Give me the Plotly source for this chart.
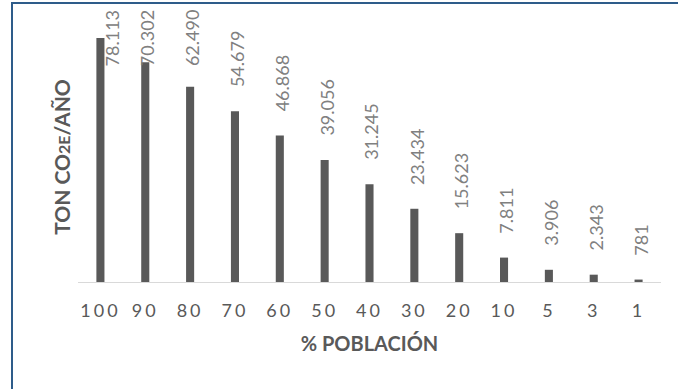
import plotly.graph_objects as go

# Emissions by share of population
categories = ["100", "90", "80", "70", "60", "50", "40", "30", "20", "10", "5", "3", "1"]
emissions = [78113, 70302, 62490, 54679, 46868, 39056, 31245, 23434, 15623, 7811, 3906, 2343, 781]

W, H = 678, 389
M_L, M_R, M_T, M_B = 78, 17, 32, 107
Y_MAX = 80000
plot_w = W - M_L - M_R
plot_h = H - M_T - M_B


def px_x(px):
    return (px - M_L) / plot_w


def px_y(py):
    return (H - M_B - py) / plot_h


def fmt(v):
    return f"{v:,}".replace(",", ".")


bar_color = "#595959"
text_gray = "#595959"
label_gray = "#808080"
font_family = "Lato, 'Open Sans', sans-serif"

fig = go.Figure(
    go.Bar(
        x=categories,
        y=emissions,
        marker=dict(color=bar_color, line=dict(width=0)),
        hoverinfo="skip",
    )
)

# value labels, vertical, sitting a little above each bar and kept inside the chart area
units_per_px = Y_MAX / plot_h
pad = 22 * units_per_px
cap = (H - M_B - 68) * units_per_px
annotations = []
for i, v in enumerate(emissions):
    annotations.append(
        dict(
            x=i,
            y=min(v + pad, cap),
            xref="x",
            yref="y",
            text=fmt(v),
            textangle=-90,
            showarrow=False,
            xanchor="center",
            yanchor="bottom",
            xshift=12 if i == 0 else 2,
            font=dict(family=font_family, size=18, color=label_gray),
        )
    )

fig.update_layout(
    width=W,
    height=H,
    margin=dict(l=M_L, r=M_R, t=M_T, b=M_B, pad=0),
    paper_bgcolor="white",
    plot_bgcolor="white",
    bargap=0.82,
    showlegend=False,
    annotations=annotations,
    font=dict(family=font_family, color=text_gray),
    xaxis=dict(
        type="category",
        categoryorder="array",
        categoryarray=categories,
        range=[-0.5, len(categories) - 0.5],
        showline=True,
        linecolor="#D9D9D9",
        linewidth=1,
        ticks="",
        tickangle=0,
        showgrid=False,
        tickfont=dict(family=font_family, size=18, color=text_gray),
        ticklabelstandoff=12,
        title=dict(
            text="<b>% POBLACIÓN</b>",
            font=dict(family=font_family, size=20, color=text_gray),
            standoff=17,
        ),
    ),
    yaxis=dict(
        range=[0, Y_MAX],
        showline=False,
        showgrid=False,
        zeroline=False,
        showticklabels=False,
        ticks="",
        title=dict(
            text="<b>TON CO<span style='font-size:16px'>2E</span>/AÑO</b>",
            font=dict(family=font_family, size=21, color=text_gray),
            standoff=0,
        ),
    ),
    shapes=[
        dict(
            type="rect",
            xref="paper",
            yref="paper",
            x0=px_x(12),
            x1=px_x(W + 20),
            y0=px_y(H + 20),
            y1=px_y(3),
            line=dict(color="#2E5C8A", width=2),
            fillcolor="rgba(0,0,0,0)",
            layer="above",
        )
    ],
)

# wider character spacing on the category labels
spacing_js = (
    "document.querySelectorAll('.xtick text').forEach(function(t){"
    "t.setAttribute('letter-spacing','3px');});"
)
fig.write_html("out.html", post_script=spacing_js)
